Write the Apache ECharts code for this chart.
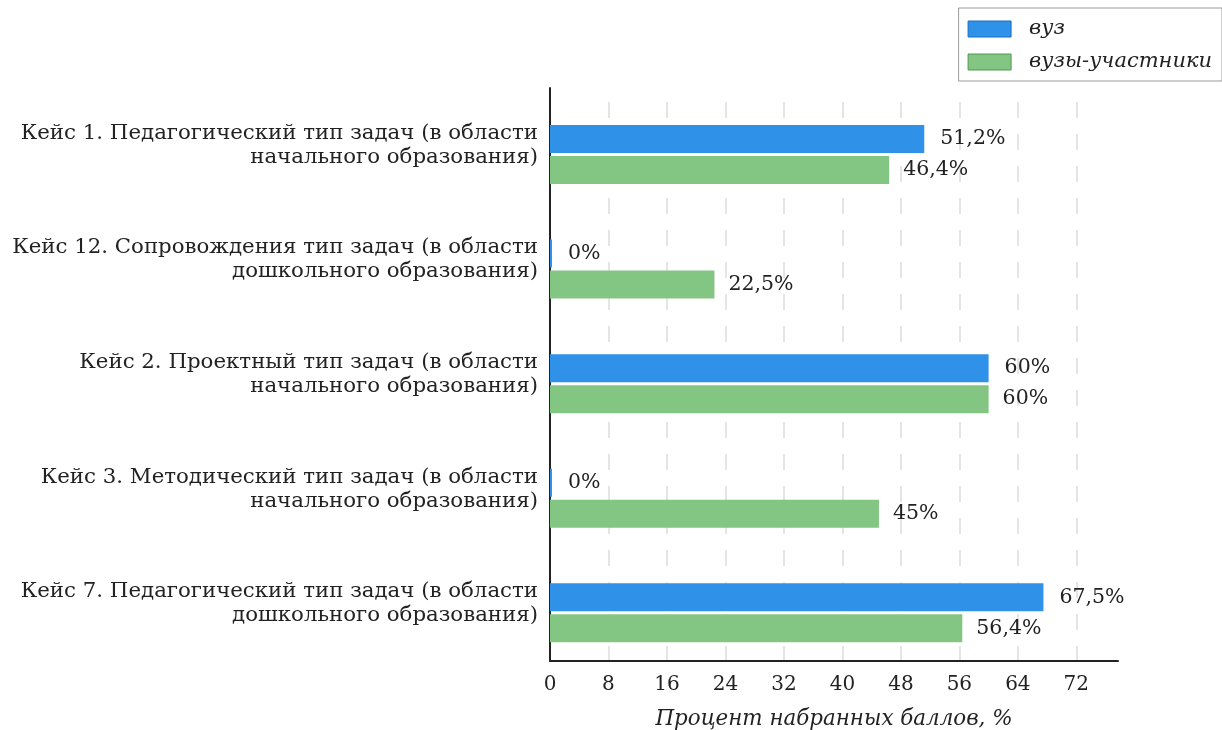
<!DOCTYPE html>
<html>
<head>
<meta charset="utf-8">
<script src="https://cdn.jsdelivr.net/npm/echarts@6/dist/echarts.min.js"></script>
<style>html,body{margin:0;padding:0;background:#fff}#c{width:1222px;height:730px}</style>
</head>
<body>
<div id="c"></div>
<script>
const categories = [
  "Кейс 1. Педагогический тип задач (в области\nначального образования)",
  "Кейс 12. Сопровождения тип задач (в области\nдошкольного образования)",
  "Кейс 2. Проектный тип задач (в области\nначального образования)",
  "Кейс 3. Методический тип задач (в области\nначального образования)",
  "Кейс 7. Педагогический тип задач (в области\nдошкольного образования)"
];
const seriesNames = ["вуз", "вузы-участники"];
const vuzValues = [51.2, 0, 60, 0, 67.5];
const participantValues = [46.4, 22.5, 60, 45, 56.4];
const xTicks = [0, 8, 16, 24, 32, 40, 48, 56, 64, 72];

const FONT = "DejaVu Serif";
const fmt = p => String(p.value).replace('.', ',') + '%';
const chart = echarts.init(document.getElementById('c'));
chart.setOption({
  animation: false,
  textStyle: { fontFamily: FONT },
  legend: {
    orient: 'vertical',
    right: 0, top: 8,
    padding: [9, 10, 7, 9],
    itemWidth: 43, itemHeight: 16, itemGap: 9,
    borderColor: '#9a9a9a', borderWidth: 1, borderRadius: 0,
    backgroundColor: '#fff',
    textStyle: { fontFamily: FONT, fontStyle: 'italic', fontSize: 21, lineHeight: 24, color: '#222', padding: [0, 0, 0, 13] },
    data: [
      { name: seriesNames[0], icon: 'rect', itemStyle: { borderColor: '#1d6fbf', borderWidth: 1 } },
      { name: seriesNames[1], icon: 'rect', itemStyle: { borderColor: '#4f9a4f', borderWidth: 1 } }
    ]
  },
  grid: { left: 550, top: 88, width: 568, height: 573, containLabel: false, outerBoundsMode: 'none' },
  xAxis: {
    type: 'value', min: 0, max: 77.7, interval: 8,
    axisLine: { show: true, lineStyle: { color: '#222', width: 2 } },
    axisTick: { show: false },
    axisLabel: { fontFamily: FONT, fontSize: 20, color: '#222', margin: 14, showMaxLabel: false },
    splitLine: { show: true, showMinLine: false, showMaxLine: false,
      lineStyle: { color: '#e5e5e5', width: 2, type: [16, 16], dashOffset: 18 } },
    name: 'Процент набранных баллов, %',
    nameLocation: 'middle', nameGap: 48,
    nameTextStyle: { fontFamily: FONT, fontStyle: 'italic', fontSize: 21.4, color: '#222' }
  },
  yAxis: {
    type: 'category', inverse: true, data: categories,
    axisLine: { show: true, lineStyle: { color: '#222', width: 2 } },
    axisTick: { show: false },
    axisLabel: { fontFamily: FONT, fontSize: 21.3, color: '#222', margin: 12, align: 'right', lineHeight: 24,
      padding: [3, 0, 0, 0] }
  },
  series: [
    { name: 'pad', type: 'bar', data: [], barWidth: 16.5, barGap: '10.7%', silent: true,
      itemStyle: { opacity: 0 } },
    { name: seriesNames[0], type: 'bar', data: vuzValues, barWidth: 28, barGap: '10.7%', barMinHeight: 2,
      itemStyle: { color: '#2f92e8' },
      label: { show: true, position: 'right', distance: 16, formatter: fmt, fontFamily: FONT, fontSize: 20.5, color: '#222' } },
    { name: seriesNames[1], type: 'bar', data: participantValues, barWidth: 28, barGap: '10.7%',
      itemStyle: { color: '#83c683' },
      label: { show: true, position: 'right', distance: 14, formatter: fmt, fontFamily: FONT, fontSize: 20.5, color: '#222' } }
  ]
});
</script>
</body>
</html>
